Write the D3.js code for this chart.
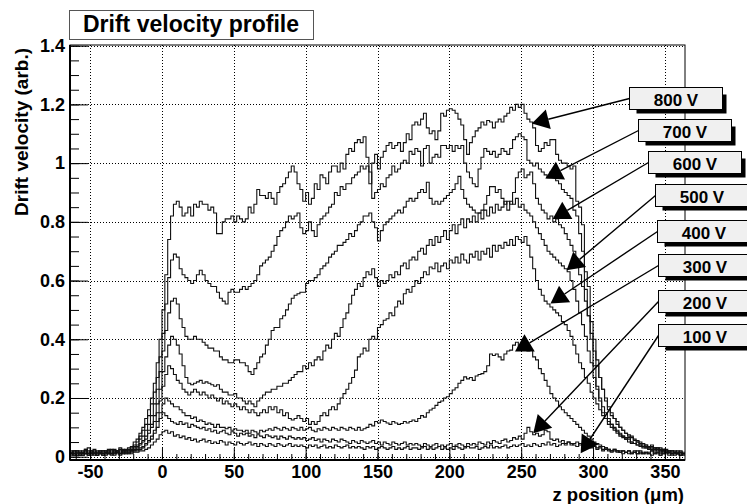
<!DOCTYPE html>
<html><head><meta charset="utf-8">
<script src="https://cdn.jsdelivr.net/npm/d3@7/dist/d3.min.js"></script>
<style>
html,body{margin:0;padding:0;background:#fff;}
svg{display:block;}
text{font-family:"Liberation Sans",Arial,Helvetica,sans-serif;font-weight:bold;fill:#000;}
</style></head><body>
<svg id="chart" width="747" height="504"></svg>
<script>
// ---- data ----
const binLow = -64, binWidth = 2;
const seriesNames = ["800 V","700 V","600 V","500 V","400 V","300 V","200 V","100 V"];
const v800 = [0.02,0.01,0.015,0.005,0.02,0.01,0.03,0.015,0.01,0.02,
0.015,0.02,0.01,0.025,0.01,0.02,0.015,0.03,0.02,0.025,
0.03,0.035,0.05,0.06,0.08,0.1,0.13,0.16,0.2,0.25,
0.32,0.4,0.5,0.62,0.74,0.82,0.86,0.87,0.85,0.82,
0.83,0.85,0.82,0.86,0.85,0.87,0.86,0.86,0.84,0.85,
0.83,0.76,0.76,0.8,0.81,0.81,0.82,0.8,0.82,0.81,
0.8,0.81,0.85,0.83,0.86,0.91,0.89,0.89,0.88,0.9,
0.88,0.86,0.9,0.92,0.93,0.95,0.97,0.99,0.97,0.93,
0.91,0.87,0.9,0.86,0.88,0.93,0.91,0.96,0.95,0.93,
0.97,0.99,0.99,0.97,1.0,0.98,1.03,1.05,1.04,1.07,
1.08,1.07,1.09,1.02,0.93,1.0,1.03,0.98,1.02,1.04,
1.06,1.07,1.05,1.06,1.07,1.04,1.07,1.1,1.08,1.13,
1.14,1.13,1.15,1.17,1.12,1.1,1.11,1.08,1.11,1.17,
1.16,1.18,1.185,1.18,1.17,1.15,1.13,1.08,1.03,1.07,
1.09,1.11,1.12,1.14,1.13,1.145,1.14,1.12,1.14,1.15,
1.14,1.16,1.17,1.19,1.18,1.2,1.19,1.2,1.17,1.15,
1.14,1.12,1.06,1.04,1.05,1.07,1.06,1.08,1.08,1.03,
1.01,1.0,1.0,0.99,0.98,0.99,0.87,0.85,0.79,0.57,
0.48,0.4,0.31,0.24,0.19,0.15,0.13,0.12,0.11,0.095,
0.085,0.075,0.07,0.06,0.065,0.05,0.045,0.05,0.04,0.035,
0.04,0.03,0.035,0.025,0.03,0.02,0.025,0.015,0.02,0.015,
0.02,0.01,0.015,0.01];
const v700 = [0.01,0.02,0.005,0.015,0.01,0.025,0.01,0.02,0.005,0.015,
0.02,0.01,0.02,0.015,0.025,0.01,0.02,0.015,0.025,0.02,
0.025,0.03,0.04,0.05,0.07,0.09,0.11,0.14,0.18,0.22,
0.27,0.34,0.42,0.52,0.61,0.67,0.69,0.68,0.64,0.62,
0.61,0.6,0.59,0.6,0.62,0.635,0.62,0.6,0.59,0.58,
0.58,0.56,0.54,0.53,0.52,0.56,0.57,0.56,0.56,0.57,
0.58,0.57,0.58,0.59,0.6,0.62,0.65,0.66,0.67,0.68,
0.7,0.72,0.75,0.77,0.78,0.8,0.82,0.81,0.82,0.83,
0.78,0.76,0.77,0.8,0.77,0.75,0.79,0.81,0.82,0.83,
0.85,0.86,0.9,0.89,0.92,0.91,0.93,0.93,0.95,0.96,
0.97,0.99,0.98,0.99,0.97,0.88,0.9,0.91,0.93,0.92,
0.95,0.96,0.99,0.97,0.98,1.0,1.01,1.0,1.04,1.03,
1.05,1.04,0.99,1.05,1.06,1.0,1.02,1.03,1.02,1.06,
1.06,1.05,1.06,1.04,1.06,1.05,1.06,1.0,0.97,0.95,
0.93,0.92,0.98,1.02,1.05,1.04,1.03,1.04,1.02,1.03,
1.05,1.04,1.03,1.05,1.08,1.09,1.1,1.09,1.08,1.01,
1.0,0.99,1.0,0.98,0.97,0.96,0.95,0.97,0.96,0.94,
0.93,0.91,0.9,0.89,0.88,0.84,0.82,0.76,0.7,0.63,
0.58,0.46,0.4,0.33,0.27,0.23,0.19,0.16,0.14,0.13,
0.11,0.1,0.09,0.08,0.075,0.07,0.06,0.055,0.05,0.045,
0.04,0.035,0.04,0.03,0.025,0.03,0.02,0.025,0.015,0.02,
0.015,0.02,0.01,0.015];
const v600 = [0.015,0.01,0.02,0.01,0.005,0.02,0.015,0.01,0.025,0.01,
0.01,0.02,0.015,0.01,0.02,0.025,0.015,0.02,0.01,0.02,
0.02,0.025,0.035,0.04,0.06,0.07,0.09,0.11,0.14,0.18,
0.23,0.29,0.36,0.43,0.49,0.53,0.54,0.52,0.47,0.44,
0.41,0.4,0.4,0.41,0.4,0.4,0.39,0.38,0.37,0.37,
0.36,0.36,0.34,0.33,0.33,0.32,0.32,0.33,0.33,0.32,
0.32,0.31,0.29,0.28,0.3,0.32,0.34,0.35,0.38,0.4,
0.43,0.44,0.44,0.47,0.48,0.5,0.52,0.54,0.55,0.555,
0.56,0.56,0.59,0.6,0.6,0.61,0.62,0.64,0.65,0.66,
0.68,0.69,0.7,0.72,0.72,0.73,0.74,0.76,0.75,0.77,
0.79,0.8,0.82,0.82,0.83,0.8,0.78,0.735,0.77,0.79,
0.8,0.81,0.82,0.83,0.84,0.83,0.85,0.87,0.88,0.87,
0.88,0.9,0.91,0.9,0.935,0.88,0.86,0.87,0.86,0.87,
0.88,0.89,0.9,0.91,0.93,0.955,0.91,0.88,0.86,0.85,
0.84,0.83,0.83,0.84,0.86,0.89,0.92,0.92,0.9,0.91,
0.88,0.86,0.87,0.86,0.9,0.95,0.97,0.98,0.95,0.96,
0.97,0.93,0.88,0.86,0.84,0.83,0.81,0.82,0.8,0.81,
0.79,0.78,0.76,0.74,0.72,0.7,0.66,0.62,0.58,0.53,
0.48,0.42,0.36,0.31,0.27,0.23,0.2,0.17,0.15,0.13,
0.12,0.1,0.09,0.08,0.07,0.065,0.055,0.05,0.045,0.04,
0.035,0.03,0.035,0.025,0.03,0.02,0.025,0.02,0.015,0.02,
0.015,0.01,0.02,0.01];
const v500 = [0.01,0.015,0.005,0.02,0.01,0.015,0.01,0.02,0.01,0.015,
0.02,0.01,0.015,0.02,0.01,0.015,0.02,0.01,0.02,0.015,
0.02,0.02,0.03,0.035,0.045,0.055,0.07,0.09,0.11,0.14,
0.18,0.23,0.29,0.34,0.38,0.41,0.4,0.38,0.35,0.31,
0.27,0.25,0.245,0.25,0.255,0.26,0.25,0.255,0.25,0.245,
0.24,0.245,0.23,0.22,0.22,0.21,0.21,0.215,0.2,0.2,
0.19,0.18,0.19,0.18,0.17,0.19,0.2,0.21,0.22,0.22,
0.23,0.23,0.24,0.24,0.25,0.25,0.26,0.27,0.28,0.29,
0.29,0.31,0.3,0.32,0.31,0.33,0.34,0.33,0.36,0.38,
0.37,0.4,0.42,0.41,0.44,0.47,0.49,0.52,0.55,0.57,
0.59,0.58,0.61,0.63,0.62,0.64,0.61,0.58,0.6,0.59,
0.6,0.62,0.61,0.63,0.62,0.65,0.66,0.64,0.67,0.68,
0.67,0.7,0.71,0.69,0.72,0.74,0.72,0.75,0.73,0.75,
0.77,0.74,0.77,0.79,0.76,0.79,0.81,0.78,0.81,0.8,
0.82,0.8,0.83,0.81,0.84,0.82,0.85,0.83,0.86,0.84,
0.85,0.87,0.84,0.87,0.86,0.88,0.85,0.86,0.84,0.83,
0.82,0.8,0.78,0.76,0.74,0.72,0.7,0.69,0.68,0.67,
0.66,0.65,0.64,0.63,0.6,0.57,0.53,0.49,0.45,0.41,
0.36,0.32,0.27,0.23,0.2,0.17,0.15,0.13,0.11,0.1,
0.09,0.08,0.07,0.065,0.06,0.05,0.045,0.04,0.04,0.035,
0.03,0.035,0.025,0.03,0.02,0.025,0.015,0.02,0.015,0.01,
0.015,0.01,0.015,0.01];
const v400 = [0.015,0.005,0.02,0.01,0.015,0.025,0.01,0.005,0.02,0.01,
0.015,0.01,0.02,0.01,0.015,0.02,0.01,0.025,0.015,0.01,
0.015,0.02,0.025,0.03,0.04,0.05,0.06,0.08,0.1,0.12,
0.15,0.19,0.24,0.28,0.31,0.3,0.28,0.26,0.25,0.23,
0.22,0.21,0.22,0.23,0.22,0.21,0.22,0.21,0.2,0.21,
0.2,0.19,0.2,0.18,0.19,0.18,0.17,0.18,0.17,0.16,
0.17,0.16,0.15,0.16,0.15,0.14,0.15,0.16,0.15,0.17,
0.16,0.17,0.15,0.16,0.14,0.15,0.13,0.125,0.13,0.14,
0.13,0.12,0.13,0.11,0.12,0.11,0.12,0.14,0.15,0.14,
0.16,0.17,0.16,0.18,0.2,0.215,0.23,0.25,0.27,0.295,
0.34,0.35,0.37,0.36,0.4,0.41,0.4,0.44,0.45,0.465,
0.47,0.49,0.48,0.51,0.53,0.52,0.555,0.57,0.56,0.58,
0.6,0.59,0.61,0.63,0.62,0.646,0.64,0.66,0.63,0.65,
0.66,0.64,0.67,0.66,0.68,0.66,0.69,0.67,0.66,0.69,
0.68,0.7,0.67,0.7,0.69,0.71,0.68,0.72,0.7,0.72,
0.71,0.73,0.72,0.74,0.72,0.75,0.74,0.73,0.75,0.72,
0.68,0.64,0.6,0.57,0.55,0.53,0.52,0.51,0.5,0.49,
0.48,0.46,0.45,0.43,0.41,0.38,0.35,0.32,0.3,0.27,
0.25,0.22,0.2,0.18,0.16,0.14,0.13,0.11,0.1,0.09,
0.08,0.07,0.065,0.06,0.05,0.045,0.045,0.04,0.035,0.03,
0.03,0.025,0.03,0.02,0.025,0.015,0.02,0.015,0.02,0.01,
0.015,0.01,0.015,0.005];
const v300 = [0.01,0.02,0.01,0.005,0.015,0.01,0.02,0.01,0.015,0.005,
0.01,0.015,0.005,0.02,0.01,0.015,0.02,0.01,0.015,0.02,
0.015,0.02,0.02,0.025,0.03,0.035,0.045,0.055,0.07,0.09,
0.12,0.15,0.18,0.2,0.19,0.18,0.17,0.17,0.16,0.15,
0.14,0.14,0.13,0.135,0.12,0.125,0.12,0.11,0.115,0.11,
0.1,0.11,0.1,0.1,0.095,0.1,0.09,0.095,0.09,0.09,
0.085,0.09,0.08,0.09,0.085,0.08,0.09,0.085,0.09,0.095,
0.09,0.1,0.095,0.09,0.1,0.095,0.09,0.1,0.095,0.09,
0.1,0.09,0.095,0.1,0.09,0.085,0.095,0.09,0.1,0.095,
0.09,0.1,0.095,0.09,0.1,0.095,0.09,0.1,0.095,0.09,
0.1,0.09,0.095,0.1,0.11,0.105,0.12,0.115,0.125,0.12,
0.115,0.11,0.12,0.115,0.11,0.113,0.12,0.115,0.12,0.125,
0.12,0.13,0.14,0.135,0.15,0.159,0.165,0.175,0.185,0.19,
0.2,0.204,0.215,0.227,0.235,0.25,0.26,0.272,0.265,0.27,
0.26,0.275,0.28,0.283,0.29,0.31,0.35,0.345,0.35,0.34,
0.33,0.35,0.36,0.363,0.38,0.39,0.37,0.363,0.37,0.36,
0.363,0.34,0.33,0.3,0.283,0.26,0.24,0.215,0.2,0.19,
0.17,0.16,0.15,0.14,0.13,0.12,0.11,0.1,0.09,0.08,
0.07,0.06,0.05,0.045,0.04,0.035,0.03,0.025,0.02,0.025,
0.02,0.015,0.02,0.015,0.02,0.01,0.015,0.02,0.01,0.015,
0.01,0.015,0.02,0.01,0.015,0.01,0.02,0.01,0.015,0.01,
0.01,0.015,0.005,0.01];
const v200 = [0.005,0.01,0.015,0.005,0.01,0.02,0.005,0.015,0.01,0.005,
0.015,0.005,0.01,0.015,0.01,0.005,0.015,0.01,0.02,0.01,
0.01,0.015,0.02,0.02,0.025,0.03,0.04,0.05,0.06,0.08,
0.1,0.13,0.15,0.14,0.13,0.12,0.115,0.11,0.12,0.11,
0.115,0.1,0.11,0.105,0.1,0.095,0.1,0.09,0.095,0.085,
0.09,0.08,0.085,0.09,0.08,0.075,0.085,0.08,0.07,0.08,
0.075,0.08,0.07,0.075,0.065,0.075,0.07,0.065,0.075,0.07,
0.065,0.07,0.06,0.07,0.065,0.06,0.07,0.065,0.06,0.065,
0.06,0.065,0.055,0.06,0.065,0.055,0.06,0.05,0.06,0.055,
0.05,0.06,0.055,0.05,0.06,0.055,0.05,0.045,0.055,0.05,
0.045,0.055,0.05,0.045,0.05,0.055,0.045,0.05,0.04,0.05,
0.045,0.04,0.05,0.045,0.04,0.045,0.05,0.04,0.045,0.04,
0.045,0.04,0.035,0.045,0.04,0.035,0.04,0.045,0.035,0.04,
0.035,0.04,0.045,0.035,0.04,0.045,0.04,0.035,0.045,0.04,
0.045,0.04,0.05,0.045,0.04,0.05,0.045,0.055,0.05,0.045,
0.055,0.06,0.05,0.055,0.065,0.06,0.07,0.06,0.08,0.1,
0.085,0.075,0.08,0.07,0.075,0.09,0.085,0.06,0.055,0.06,
0.05,0.055,0.045,0.05,0.04,0.045,0.05,0.04,0.045,0.035,
0.04,0.03,0.035,0.025,0.03,0.02,0.025,0.02,0.015,0.02,
0.015,0.02,0.01,0.015,0.02,0.01,0.015,0.01,0.02,0.01,
0.015,0.01,0.02,0.01,0.015,0.005,0.01,0.015,0.01,0.005,
0.01,0.015,0.005,0.01];
const v100 = [0.01,0.005,0.01,0.015,0.005,0.01,0.005,0.01,0.015,0.005,
0.01,0.005,0.015,0.01,0.005,0.01,0.015,0.005,0.01,0.015,
0.01,0.01,0.015,0.015,0.02,0.02,0.025,0.03,0.04,0.05,
0.06,0.075,0.085,0.09,0.08,0.085,0.07,0.075,0.065,0.07,
0.06,0.065,0.055,0.06,0.05,0.055,0.06,0.05,0.055,0.045,
0.05,0.045,0.055,0.05,0.04,0.05,0.045,0.04,0.05,0.045,
0.04,0.045,0.05,0.04,0.045,0.035,0.045,0.04,0.035,0.045,
0.04,0.035,0.045,0.04,0.035,0.04,0.045,0.035,0.04,0.035,
0.04,0.035,0.03,0.04,0.035,0.04,0.03,0.035,0.04,0.03,
0.035,0.03,0.04,0.035,0.03,0.035,0.04,0.03,0.035,0.03,
0.035,0.03,0.025,0.035,0.03,0.035,0.025,0.03,0.035,0.03,
0.025,0.03,0.035,0.025,0.03,0.025,0.03,0.035,0.025,0.03,
0.03,0.025,0.03,0.035,0.025,0.03,0.025,0.03,0.035,0.025,
0.03,0.025,0.03,0.025,0.035,0.03,0.025,0.03,0.035,0.03,
0.03,0.035,0.025,0.03,0.035,0.03,0.04,0.03,0.035,0.03,
0.035,0.04,0.03,0.035,0.04,0.035,0.04,0.045,0.035,0.04,
0.035,0.045,0.04,0.035,0.045,0.04,0.05,0.04,0.045,0.035,
0.04,0.045,0.04,0.05,0.045,0.04,0.035,0.045,0.04,0.05,
0.045,0.04,0.035,0.03,0.035,0.025,0.03,0.025,0.02,0.025,
0.02,0.015,0.02,0.015,0.01,0.015,0.02,0.01,0.015,0.01,
0.015,0.01,0.005,0.015,0.01,0.005,0.01,0.015,0.005,0.01,
0.005,0.01,0.005,0.01];
const seriesValues = [v800,v700,v600,v500,v400,v300,v200,v100];
const xTickValues = [-50,0,50,100,150,200,250,300,350];
const xTickLabels = ["-50","0","50","100","150","200","250","300","350"];
const yTickValues = [0,0.2,0.4,0.6,0.8,1,1.2,1.4];
const yTickLabels = ["0","0.2","0.4","0.6","0.8","1","1.2","1.4"];
// arrow tip positions (z, drift velocity) for each label
const arrowTipZ = [257.4,266.8,271.9,281.6,270.4,245.7,258.4,291.4];
const arrowTipV = [1.135,0.948,0.81,0.635,0.522,0.358,0.08,0.012];

// ---- layout ----
const W = 747, H = 504;
const frame = {left:70, right:685, top:45, bottom:460};
const svg = d3.select("#chart");
svg.append("rect").attr("width",W).attr("height",H).attr("fill","#fff");

const x = d3.scaleLinear().domain([-64,364]).range([frame.left, frame.right]);
const y = d3.scaleLinear().domain([-0.0112,1.4024]).range([frame.bottom, frame.top]);

// grid
const grid = svg.append("g").attr("stroke","#000").attr("stroke-width",1).attr("stroke-dasharray","1,2");
grid.selectAll("line.gx").data(xTickValues).join("line")
  .attr("x1",d=>Math.round(x(d))+0.5).attr("x2",d=>Math.round(x(d))+0.5)
  .attr("y1",frame.top).attr("y2",frame.bottom);
grid.selectAll("line.gy").data(yTickValues).join("line")
  .attr("y1",d=>Math.round(y(d))+0.5).attr("y2",d=>Math.round(y(d))+0.5)
  .attr("x1",frame.left).attr("x2",frame.right);

// clip
svg.append("clipPath").attr("id","clip").append("rect")
  .attr("x",frame.left).attr("y",frame.top)
  .attr("width",frame.right-frame.left).attr("height",frame.bottom-frame.top);

// histograms
const line = d3.line().x(d=>x(d[0])).y(d=>y(d[1])).curve(d3.curveStepAfter);
const hg = svg.append("g").attr("clip-path","url(#clip)");
seriesValues.forEach(vals=>{
  const pts = vals.map((v,i)=>[binLow+i*binWidth, v]);
  pts.push([binLow+vals.length*binWidth, vals[vals.length-1]]);
  hg.append("path").attr("d",line(pts)).attr("fill","none")
    .attr("stroke","#111").attr("stroke-width",1.1);
});

// axes
const yMinor = d3.range(0,1.4001,0.05);
const xMinor = d3.range(-60,361,10);
svg.append("g").attr("transform",`translate(${frame.left},0)`)
  .call(d3.axisLeft(y).tickValues(yMinor).tickSize(-9).tickSizeOuter(0).tickFormat(""))
  .call(g=>g.select(".domain").remove());
svg.append("g").attr("transform",`translate(0,${frame.bottom})`)
  .call(d3.axisBottom(x).tickValues(xMinor).tickSize(-6).tickSizeOuter(0).tickFormat(""))
  .call(g=>g.select(".domain").remove());
const yAxis = svg.append("g").attr("transform",`translate(${frame.left},0)`)
  .call(d3.axisLeft(y).tickValues(yTickValues).tickSize(-18).tickSizeOuter(0)
    .tickPadding(5).tickFormat((d,i)=>yTickLabels[i]));
const xAxis = svg.append("g").attr("transform",`translate(0,${frame.bottom})`)
  .call(d3.axisBottom(x).tickValues(xTickValues).tickSize(-12).tickSizeOuter(0)
    .tickPadding(5).tickFormat((d,i)=>xTickLabels[i]));
svg.selectAll(".tick line").attr("stroke","#000");
[yAxis,xAxis].forEach(a=>{
  a.selectAll("text").attr("font-size",18).attr("font-family","Liberation Sans, Arial, sans-serif").attr("font-weight","bold").attr("fill","#000");
  a.select(".domain").remove();
});
// frame
svg.append("rect").attr("x",frame.left).attr("y",frame.top)
  .attr("width",frame.right-frame.left).attr("height",frame.bottom-frame.top)
  .attr("fill","none").attr("stroke","#000").attr("stroke-width",1);
svg.append("line").attr("x1",frame.left).attr("x2",frame.left).attr("y1",frame.top).attr("y2",frame.bottom+0.5)
  .attr("stroke","#000").attr("stroke-width",2);
svg.append("line").attr("x1",frame.left).attr("x2",frame.right).attr("y1",frame.bottom).attr("y2",frame.bottom)
  .attr("stroke","#000").attr("stroke-width",2);

// axis titles
svg.append("text").attr("transform",`translate(28,48) rotate(-90)`)
  .attr("text-anchor","end").attr("font-size",19).text("Drift velocity (arb.)");
svg.append("text").attr("x",684).attr("y",501).attr("text-anchor","end")
  .attr("font-size",18.5).text("z position (\u03BCm)");

// title box
svg.append("rect").attr("x",69.5).attr("y",10.5).attr("width",244).attr("height",29)
  .attr("fill","#fff").attr("stroke","#555").attr("stroke-width",1);
svg.append("text").attr("x",191).attr("y",32).attr("text-anchor","middle")
  .attr("font-size",23).text("Drift velocity profile");

// legend boxes with arrows
const boxLeft = [629,638,648,655,657,658,658,658];
const boxTop = [87,119,151,184,220,254,290,324];
const boxW = 93, boxH = 22;
const lg = svg.append("g");
seriesNames.forEach((name,i)=>{
  const bx = boxLeft[i]+0.5, by = boxTop[i]+0.5;
  // arrow
  const sx = bx, sy = by+boxH/2;
  const tx = x(arrowTipZ[i]), ty = y(arrowTipV[i]);
  const dx = sx-tx, dy = sy-ty, len = Math.hypot(dx,dy);
  const ux = dx/len, uy = dy/len;
  const hl = 17, hw = 10;
  const bxm = tx+ux*hl, bym = ty+uy*hl;
  lg.append("line").attr("x1",sx).attr("y1",sy).attr("x2",bxm).attr("y2",bym)
    .attr("stroke","#000").attr("stroke-width",1.4);
  lg.append("path").attr("d",`M${tx},${ty}L${bxm-uy*hw},${bym+ux*hw}L${bxm+uy*hw},${bym-ux*hw}Z`)
    .attr("fill","#000");
  // shadow
  lg.append("rect").attr("x",bx+7).attr("y",by+7).attr("width",boxW-3).attr("height",boxH-3)
    .attr("fill","#000");
  lg.append("rect").attr("x",bx).attr("y",by).attr("width",boxW).attr("height",boxH)
    .attr("fill","#f0f0f0").attr("stroke","#000").attr("stroke-width",1);
  lg.append("text").attr("x",bx+boxW/2).attr("y",by+18).attr("text-anchor","middle")
    .attr("font-size",17).text(name);
});
</script>
</body></html>
